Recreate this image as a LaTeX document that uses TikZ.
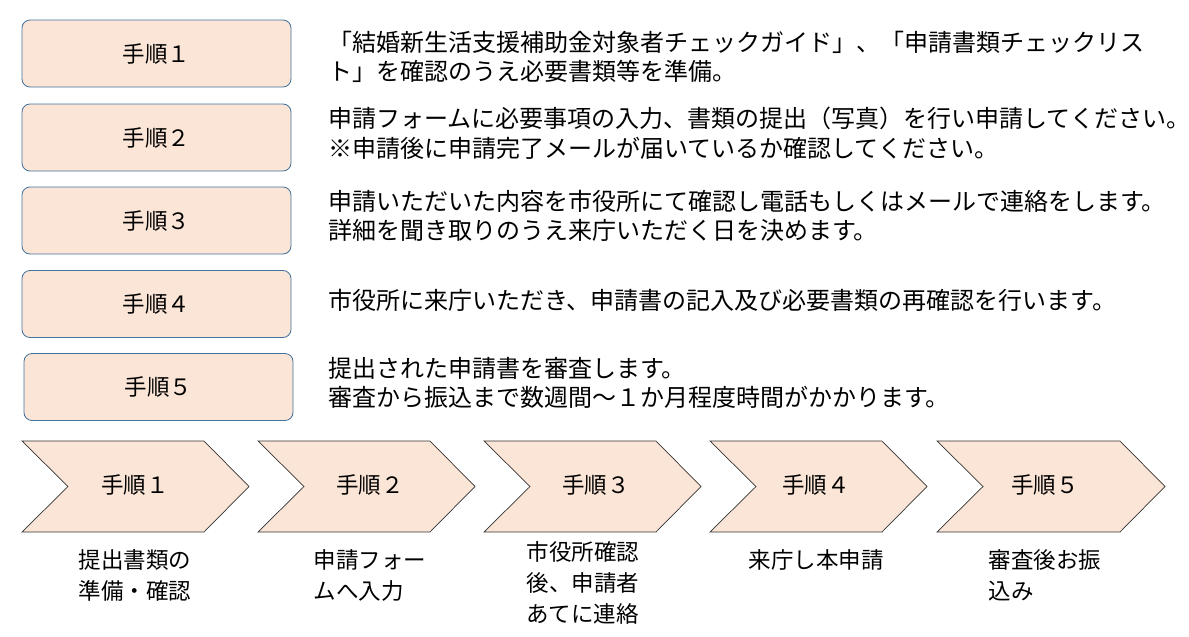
\documentclass[tikz,border=0pt]{standalone}
\usepackage{fontspec}
\setmainfont{Noto Sans CJK JP}
\definecolor{peach}{HTML}{FBE5D6}
\definecolor{bblue}{HTML}{41719C}
\tikzset{x=1pt,y=-1pt,
 stepbox/.style={draw=bblue,fill=peach,rounded corners=8pt,line width=0.8pt,minimum width=269pt,minimum height=67pt,font=\fontsize{22.5}{26}\selectfont},
 desc/.style={anchor=west,align=left,font=\fontsize{24}{29.5}\selectfont,inner sep=0pt},
 chev/.style={draw=black!80,fill=peach,line width=0.7pt},
 clab/.style={font=\fontsize{22.5}{26}\selectfont},
 blab/.style={align=left,font=\fontsize{22.5}{31}\selectfont,anchor=north,inner sep=0pt}}
\begin{document}
\begin{tikzpicture}
\useasboundingbox (0,0) rectangle (1189,637);
\node[stepbox] (b1) at (156.5,53.5) {手順１};
\node[stepbox] (b2) at (156.5,137.5) {手順２};
\node[stepbox] (b3) at (156.5,220.5) {手順３};
\node[stepbox] (b4) at (156.5,304) {手順４};
\node[stepbox] (b5) at (158.5,387) {手順５};
\node[desc] (d1) at (328,57) {「結婚新生活支援補助金対象者チェックガイド」、「申請書類チェックリス\\ト」を確認のうえ必要書類等を準備。};
\node[desc] (d2) at (328,133) {申請フォームに必要事項の入力、書類の提出（写真）を行い申請してください。\\※申請後に申請完了メールが届いているか確認してください。};
\node[desc] (d3) at (328,216) {申請いただいた内容を市役所にて確認し電話もしくはメールで連絡をします。\\詳細を聞き取りのうえ来庁いただく日を決めます。};
\node[desc] (d4) at (328,300) {市役所に来庁いただき、申請書の記入及び必要書類の再確認を行います。};
\node[desc] (d5) at (328,383) {提出された申請書を審査します。\\審査から振込まで数週間～１か月程度時間がかかります。};
\foreach \i/\a/\b/\cx/\t in {1/22/249/135/手順１,2/258/475/370/手順２,3/484/701/596/手順３,4/710/927/816/手順４,5/937/1165/1045/手順５}{
  \draw[chev] (\a,441) -- (\b-45,441) -- (\b,486.5) -- (\b-45,532) -- (\a,532) -- (\a+46,486.5) -- cycle;
  \node[clab] (c\i) at (\cx,485) {\t};
}
\node[blab] (l1) at (135,549) {提出書類の\\準備・確認};
\node[blab] (l2) at (370,549) {申請フォー\\ムへ入力};
\node[blab] (l3) at (583,541) {市役所確認\\後、申請者\\あてに連絡};
\node[blab] (l4) at (816,549) {来庁し本申請};
\node[blab] (l5) at (1045,549) {審査後お振\\込み};
\end{tikzpicture}
\end{document}
